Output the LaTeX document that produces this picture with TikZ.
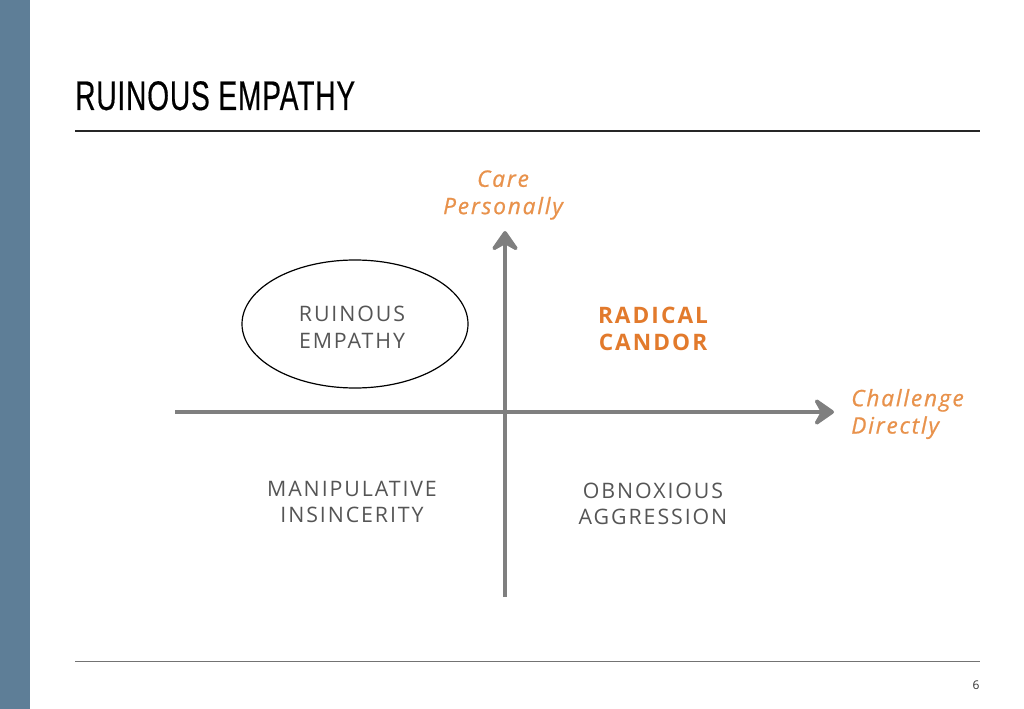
\documentclass[tikz,border=0pt]{standalone}
\usepackage{fontspec}
\setmainfont{Open Sans}
\newfontfamily\titlefont[FakeStretch=0.68, LetterSpace=2, FakeBold=0.4]{Liberation Sans}
\newfontfamily\quadfont[LetterSpace=9]{Open Sans}
\newfontfamily\axisfont[LetterSpace=8, FakeBold=0.8]{Open Sans}
\usepackage{tikz}
\usetikzlibrary{shapes.geometric,arrows.meta,positioning}
\usepackage{xcolor}
\definecolor{SideBlue}{HTML}{5E7E97}
\definecolor{AxisGray}{HTML}{7F7F7F}
\definecolor{QuadGray}{HTML}{555555}
\definecolor{SoftOrange}{HTML}{E8924C}
\definecolor{DeepOrange}{HTML}{E27A2C}

\begin{document}
\begin{tikzpicture}[x=0.75pt, y=-0.75pt,
    axis/.style={-{Stealth[length=18pt, width=25pt, inset=7pt, round]}, draw=AxisGray, line width=3.6pt},
    quad/.style={font=\quadfont\fontsize{16}{20}\selectfont, text=QuadGray, align=center, inner sep=0pt},
    axislabel/.style={font=\axisfont\itshape\fontsize{17}{20.5}\selectfont, text=SoftOrange, inner sep=0pt},
    rule/.style={line width=1.1pt}
  ]
    \useasboundingbox (0,0) rectangle (1024,709);
    % side band
    \fill[SideBlue] (0,0) rectangle (30,709);

    % heading
    \node[anchor=base west, inner sep=0pt, font=\titlefont\fontsize{31}{31}\selectfont] (title) at (75,110) {RUINOUS EMPATHY};
    \draw[rule, draw=black!85] (75,131) -- (980,131);
    \draw[line width=0.7pt, draw=black!55] (75,661) -- (980,661);
    \node[font=\fontsize{9}{9}\selectfont, text=black!80] (page) at (976,685) {6};

    % axes
    \coordinate (vbot) at (505,597);
    \coordinate (vtop) at (505,231);
    \coordinate (hleft) at (175,412);
    \coordinate (hright) at (834,412);
    \draw[axis] (vbot) -- (vtop);
    \draw[axis] (hleft) -- (hright);

    % axis labels
    \node[axislabel, align=center] (care) at (503,195) {Care\\Personally};
    \node[axislabel, align=left, anchor=west] (challenge) at (851,414) {Challenge\\Directly};

    % quadrants
    \node[quad, draw=black, line width=0.9pt, ellipse, minimum width=169.5pt, minimum height=96pt] (ruinous) at (355,324) {};
    \node[quad] (ruinoustext) at (352,327) {RUINOUS\\EMPATHY};
    \node[quad, font=\quadfont\bfseries\fontsize{17}{20}\selectfont, text=DeepOrange] (radical) at (653,329) {RADICAL\\CANDOR};
    \node[quad] (manip) at (352,502) {MANIPULATIVE\\INSINCERITY};
    \node[quad] (obnox) at (653,504) {OBNOXIOUS\\AGGRESSION};
  \end{tikzpicture}
\end{document}
